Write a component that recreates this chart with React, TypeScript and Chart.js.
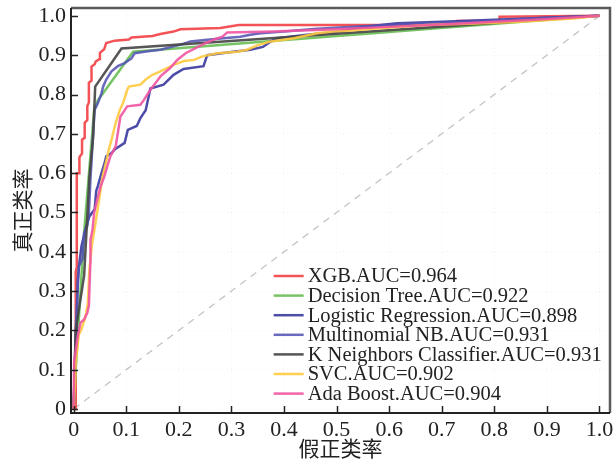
import React, { useEffect, useRef } from "react";
import { Chart, registerables } from "chart.js";
Chart.register(...registerables);

const X_TICKS = [0, 0.1, 0.2, 0.3, 0.4, 0.5, 0.6, 0.7, 0.8, 0.9, 1.0];
const Y_TICKS = [0, 0.1, 0.2, 0.3, 0.4, 0.5, 0.6, 0.7, 0.8, 0.9, 1.0];
const X_TITLE = "假正类率";
const Y_TITLE = "真正类率";

const MODEL_NAMES = [
  "XGB",
  "Decision Tree",
  "Logistic Regression",
  "Multinomial NB",
  "K Neighbors Classifier",
  "SVC",
  "Ada Boost",
];
const MODEL_AUC = ["0.964", "0.922", "0.898", "0.931", "0.931", "0.902", "0.904"];

const XGB_FPR = [0, 0.004, 0.004, 0.006, 0.006, 0.011, 0.011, 0.016, 0.016, 0.021, 0.021, 0.026, 0.026, 0.029, 0.029, 0.034, 0.034, 0.040, 0.042, 0.049, 0.050, 0.058, 0.062, 0.078, 0.105, 0.110, 0.150, 0.165, 0.190, 0.203, 0.279, 0.314, 0.730, 0.730, 0.810, 0.810, 0.998];
const XGB_TPR = [0, 0, 0.35, 0.36, 0.60, 0.60, 0.64, 0.65, 0.685, 0.69, 0.728, 0.735, 0.77, 0.78, 0.83, 0.835, 0.871, 0.877, 0.884, 0.89, 0.906, 0.915, 0.931, 0.937, 0.940, 0.945, 0.949, 0.954, 0.960, 0.966, 0.969, 0.977, 0.977, 0.987, 0.987, 0.998, 1.0];

const DT_FPR = [0, 0.004, 0.020, 0.039, 0.046, 0.113, 1.0];
const DT_TPR = [0, 0.10, 0.45, 0.76, 0.785, 0.909, 1.0];

const LR_FPR = [0, 0.003, 0.006, 0.008, 0.011, 0.015, 0.024, 0.030, 0.040, 0.043, 0.046, 0.053, 0.059, 0.062, 0.072, 0.078, 0.097, 0.103, 0.120, 0.127, 0.137, 0.146, 0.171, 0.190, 0.209, 0.247, 0.254, 0.292, 0.336, 0.360, 0.375, 0.387, 0.444, 0.508, 0.539, 0.584, 0.615, 0.70, 0.80, 0.90, 1.0];
const LR_TPR = [0, 0.12, 0.22, 0.33, 0.373, 0.415, 0.465, 0.49, 0.508, 0.555, 0.567, 0.60, 0.626, 0.643, 0.651, 0.66, 0.677, 0.71, 0.72, 0.74, 0.76, 0.815, 0.825, 0.85, 0.865, 0.872, 0.90, 0.907, 0.914, 0.921, 0.935, 0.943, 0.952, 0.96, 0.969, 0.977, 0.981, 0.985, 0.99, 0.995, 1.0];

const MNB_FPR = [0, 0.002, 0.004, 0.007, 0.010, 0.017, 0.020, 0.026, 0.029, 0.032, 0.037, 0.040, 0.046, 0.053, 0.056, 0.062, 0.072, 0.084, 0.097, 0.110, 0.116, 0.141, 0.165, 0.209, 0.222, 0.254, 0.285, 0.317, 0.336, 0.356, 0.40, 0.463, 0.54, 0.60, 0.70, 0.80, 0.90, 1.0];
const MNB_TPR = [0, 0.10, 0.203, 0.29, 0.364, 0.381, 0.448, 0.465, 0.50, 0.584, 0.70, 0.761, 0.778, 0.803, 0.82, 0.838, 0.859, 0.872, 0.88, 0.892, 0.905, 0.91, 0.914, 0.929, 0.935, 0.939, 0.943, 0.947, 0.952, 0.956, 0.96, 0.967, 0.973, 0.977, 0.982, 0.988, 0.995, 1.0];

const KNN_FPR = [0, 0.002, 0.004, 0.020, 0.030, 0.037, 0.041, 0.091, 1.0];
const KNN_TPR = [0, 0.10, 0.20, 0.34, 0.59, 0.69, 0.82, 0.917, 1.0];

const SVC_FPR = [0, 0.002, 0.004, 0.010, 0.015, 0.018, 0.021, 0.024, 0.027, 0.030, 0.035, 0.040, 0.049, 0.055, 0.062, 0.067, 0.073, 0.080, 0.088, 0.094, 0.102, 0.105, 0.127, 0.137, 0.150, 0.165, 0.191, 0.210, 0.229, 0.245, 0.273, 0.311, 0.330, 0.349, 0.375, 0.419, 0.463, 0.494, 0.527, 0.590, 0.672, 0.75, 0.85, 0.95, 1.0];
const SVC_TPR = [0, 0.05, 0.12, 0.19, 0.203, 0.216, 0.228, 0.245, 0.27, 0.355, 0.42, 0.46, 0.537, 0.59, 0.63, 0.66, 0.69, 0.728, 0.761, 0.778, 0.812, 0.82, 0.825, 0.838, 0.85, 0.859, 0.876, 0.885, 0.888, 0.897, 0.905, 0.909, 0.914, 0.925, 0.935, 0.943, 0.956, 0.96, 0.963, 0.969, 0.977, 0.98, 0.985, 0.993, 1.0];

const ADA_FPR = [0, 0.001, 0.007, 0.013, 0.020, 0.026, 0.029, 0.032, 0.032, 0.036, 0.039, 0.045, 0.051, 0.058, 0.064, 0.070, 0.080, 0.089, 0.102, 0.127, 0.134, 0.146, 0.159, 0.165, 0.184, 0.197, 0.213, 0.229, 0.248, 0.267, 0.283, 0.292, 0.38, 0.50, 0.60, 0.70, 0.80, 0.90, 1.0];
const ADA_TPR = [0, 0.12, 0.178, 0.22, 0.228, 0.245, 0.262, 0.38, 0.43, 0.457, 0.50, 0.533, 0.565, 0.59, 0.617, 0.643, 0.668, 0.744, 0.77, 0.774, 0.787, 0.812, 0.835, 0.846, 0.868, 0.888, 0.905, 0.916, 0.929, 0.94, 0.947, 0.958, 0.96, 0.966, 0.972, 0.978, 0.985, 0.992, 1.0];

const CHANCE_X = [0, 1];
const CHANCE_Y = [0, 1];

const SERIES_FPR = [XGB_FPR, DT_FPR, LR_FPR, MNB_FPR, KNN_FPR, SVC_FPR, ADA_FPR];
const SERIES_TPR = [XGB_TPR, DT_TPR, LR_TPR, MNB_TPR, KNN_TPR, SVC_TPR, ADA_TPR];

const COLORS = [
  "rgba(242,64,68,0.9)",
  "rgba(104,190,84,0.9)",
  "rgba(58,58,158,0.9)",
  "rgba(84,84,180,0.88)",
  "rgba(72,72,72,0.92)",
  "rgba(255,202,64,0.9)",
  "rgba(240,84,162,0.9)",
];

const SERIF = '"Liberation Serif", "Times New Roman", serif';
const CJK = '"Noto Sans CJK SC", sans-serif';

const toPoints = (xs: number[], ys: number[]) => xs.map((x, i) => ({ x, y: ys[i] }));

const zeroPad = (s: any) => {
  s.paddingTop = 0;
  s.paddingBottom = 0;
  s.paddingLeft = 0;
  s.paddingRight = 0;
};

const framePlugin = {
  id: "frameAndLegend",
  afterDatasetsDraw(chart: any) {
    const { ctx, chartArea: a, scales } = chart;
    ctx.save();
    // inward ticks
    ctx.strokeStyle = "#222";
    ctx.lineWidth = 1.5;
    X_TICKS.forEach((v) => {
      const px = Math.round(scales.x.getPixelForValue(v)) + 0.5;
      ctx.beginPath();
      ctx.moveTo(px, a.bottom);
      ctx.lineTo(px, a.bottom - 7);
      ctx.stroke();
    });
    Y_TICKS.forEach((v) => {
      const py = Math.round(scales.y.getPixelForValue(v)) + 0.5;
      ctx.beginPath();
      ctx.moveTo(a.left, py);
      ctx.lineTo(a.left + 7, py);
      ctx.stroke();
    });
    // frame
    ctx.strokeStyle = "#5a5a5a";
    ctx.lineWidth = 2.5;
    ctx.beginPath();
    ctx.moveTo(a.left, a.top);
    ctx.lineTo(a.right, a.top);
    ctx.lineTo(a.right, a.bottom);
    ctx.stroke();
    ctx.strokeStyle = "#222";
    ctx.lineWidth = 2;
    ctx.beginPath();
    ctx.moveTo(a.left, a.top);
    ctx.lineTo(a.left, a.bottom);
    ctx.lineTo(a.right, a.bottom);
    ctx.stroke();

    // legend
    const w = a.right - a.left;
    const lx0 = a.left + w * 0.376;
    const lx1 = lx0 + 30;
    const tx = lx1 + 4;
    const y0 = a.top + 268;
    const dy = 19.6;
    ctx.font = `20.5px ${SERIF}`;
    ctx.textBaseline = "middle";
    ctx.textAlign = "left";
    MODEL_NAMES.forEach((name, i) => {
      const y = y0 + i * dy;
      ctx.strokeStyle = COLORS[i];
      ctx.lineWidth = 2.5;
      ctx.beginPath();
      ctx.moveTo(lx0, y);
      ctx.lineTo(lx1, y);
      ctx.stroke();
      ctx.fillStyle = "#222";
      ctx.fillText(`${name}.AUC=${MODEL_AUC[i]}`, tx, y + 1);
    });
    ctx.restore();
  },
};

export default function App() {
  const ref = useRef<HTMLCanvasElement | null>(null);
  useEffect(() => {
    if (!ref.current) return;
    const n = MODEL_NAMES.length;
    const datasets: any[] = MODEL_NAMES.map((name, i) => ({
      label: name,
      data: toPoints(SERIES_FPR[i], SERIES_TPR[i]),
      borderColor: COLORS[i],
      borderWidth: 2.5,
      pointRadius: 0,
      fill: false,
      tension: 0,
      order: n - i,
    }));
    datasets.push({
      label: "chance",
      data: toPoints(CHANCE_X, CHANCE_Y),
      borderColor: "rgba(190,190,190,0.9)",
      borderWidth: 1.3,
      borderDash: [7, 6],
      pointRadius: 0,
      fill: false,
      order: n + 5,
    });
    const chart = new Chart(ref.current, {
      type: "line",
      data: { datasets },
      plugins: [framePlugin],
      options: {
        animation: false,
        responsive: false,
        devicePixelRatio: 1,
        layout: { padding: { top: 8, right: 3, left: 0, bottom: 0 } },
        plugins: { legend: { display: false }, tooltip: { enabled: false } },
        scales: {
          x: {
            type: "linear",
            min: -0.005,
            max: 1.02,
            afterFit: (s: any) => {
              s.height = 49;
              zeroPad(s);
            },
            afterBuildTicks: (s: any) => {
              s.ticks = X_TICKS.map((v) => ({ value: v }));
            },
            ticks: {
              padding: 4,
              color: "#222",
              font: { family: SERIF, size: 22 },
              maxRotation: 0,
              autoSkip: false,
              callback: (v: any) => (v === 0 ? "0" : Number(v).toFixed(1)),
            },
            grid: { color: "rgba(0,0,0,0.05)", drawTicks: false },
            border: { display: false, dash: [1, 3] },
            title: {
              display: true,
              text: X_TITLE,
              color: "#222",
              font: { family: CJK, size: 21 },
              padding: { top: 0, bottom: 1 },
            },
          },
          y: {
            type: "linear",
            min: -0.01,
            max: 1.02,
            afterFit: (s: any) => {
              s.width = 71;
              zeroPad(s);
            },
            afterBuildTicks: (s: any) => {
              s.ticks = Y_TICKS.map((v) => ({ value: v }));
            },
            ticks: {
              padding: 5,
              color: "#222",
              font: { family: SERIF, size: 22 },
              autoSkip: false,
              callback: (v: any) => (v === 0 ? "0" : Number(v).toFixed(1)),
            },
            grid: { color: "rgba(0,0,0,0.05)", drawTicks: false },
            border: { display: false, dash: [1, 3] },
            title: {
              display: true,
              text: Y_TITLE,
              color: "#222",
              font: { family: CJK, size: 21 },
              padding: { top: 9, bottom: 0 },
            },
          },
        },
      },
    });
    return () => chart.destroy();
  }, []);
  return (
    <div style={{ position: "fixed", left: 0, top: 0, width: 613, height: 462, background: "#fff" }}>
      <canvas ref={ref} width={613} height={462} style={{ width: 613, height: 462, display: "block" }} />
    </div>
  );
}
